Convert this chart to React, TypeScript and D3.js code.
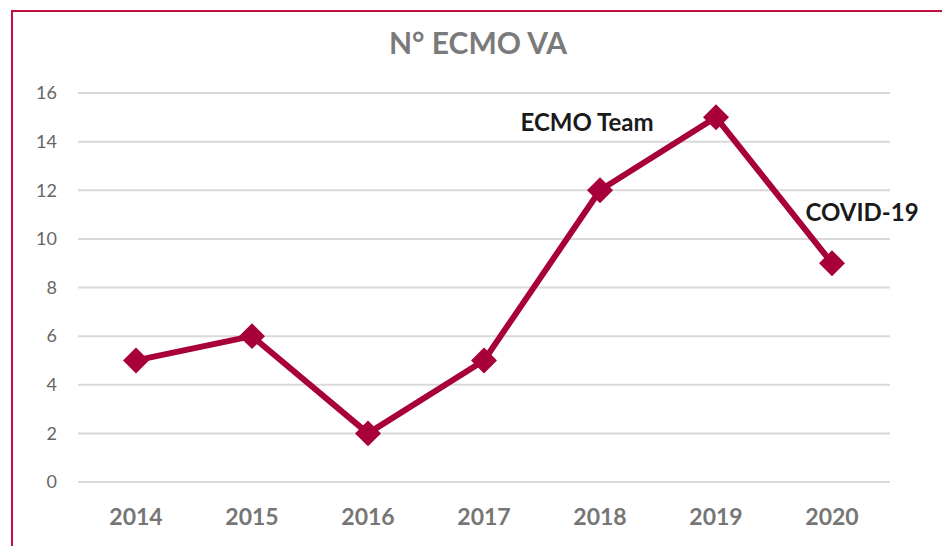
import React from 'react';
import * as d3 from 'd3';

const years = ['2014', '2015', '2016', '2017', '2018', '2019', '2020'];
const counts = [5, 6, 2, 5, 12, 15, 9];
const yTicks = [0, 2, 4, 6, 8, 10, 12, 14, 16];
const notes = [
  { year: '2018', value: 12, text: 'ECMO Team', dx: -13, dy: -59 },
  { year: '2020', value: 9, text: 'COVID-19', dx: 30, dy: -42 },
];

const width = 942;
const height = 546;
const red = '#a8003a';

export default function App() {
  const x = d3.scaleBand().domain(years).range([78, 890]).padding(0);
  const y = d3.scaleLinear().domain([0, 16]).range([482, 93]);
  const cx = (d: string) => (x(d) as number) + x.bandwidth() / 2;

  const line = d3.line<number>()
    .x((_, i) => cx(years[i]))
    .y(v => y(v));

  const diamond = d3.symbol().type(d3.symbolDiamond2).size(430);

  return (
    <svg width={width} height={height}
      style={{ position: 'absolute', left: 0, top: 0, fontFamily: 'Lato, "Open Sans", sans-serif' }}>
      <rect x={0} y={0} width={width} height={height} fill="#fff" />
      {/* chart frame, cut off at right and bottom */}
      <path d={`M12,${height + 5} V11 H${width + 5}`} fill="none" stroke="#c0103f" strokeWidth={2} />

      <text x={478} y={54} textAnchor="middle" fontSize={30} fontWeight="bold" fill="#7a7a7a">N° ECMO VA</text>

      {yTicks.map(t => (
        <g key={t}>
          <line x1={78} x2={890} y1={y(t)} y2={y(t)} stroke="#d9d9d9" strokeWidth={2} />
          <text x={57} y={y(t)} dy="0.35em" textAnchor="end" fontSize={18} fill="#666">{t}</text>
        </g>
      ))}

      {years.map(d => (
        <text key={d} x={cx(d)} y={525} textAnchor="middle" fontSize={23} fontWeight="bold" fill="#767676">{d}</text>
      ))}

      <path d={line(counts) || ''} fill="none" stroke={red} strokeWidth={6} strokeLinejoin="round" />
      {counts.map((v, i) => (
        <path key={i} d={diamond() || ''} transform={`translate(${cx(years[i])},${y(v)})`} fill={red} />
      ))}

      {notes.map(n => (
        <text key={n.text} x={cx(n.year) + n.dx} y={y(n.value) + n.dy} textAnchor="middle"
          fontSize={24} fontWeight="bold" fill="#1a1a1a">{n.text}</text>
      ))}
    </svg>
  );
}
